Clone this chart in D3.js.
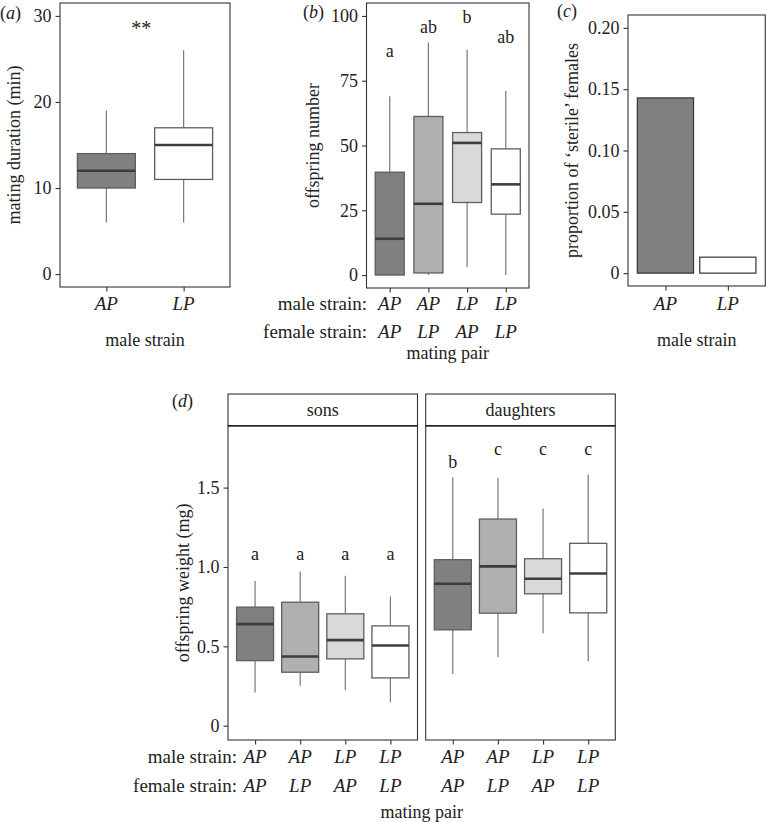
<!DOCTYPE html>
<html><head><meta charset="utf-8">
<script src="https://cdn.jsdelivr.net/npm/d3@7"></script>
<style>
html,body{margin:0;padding:0;background:#fff;}
svg{display:block;}
text{font-family:"Liberation Serif","DejaVu Serif",serif;fill:#222;}
</style></head>
<body>
<svg id="chart" width="766" height="822"></svg>
<script>
// ---------- DATA ----------
// panel (a): mating duration by male strain
const aCats = ["AP", "LP"];
const aLow  = [6, 6];
const aQ1   = [10, 11];
const aMed  = [12, 15];
const aQ3   = [14, 17];
const aHigh = [19, 26];
const aTicks = [0, 10, 20, 30];
const aSig = "**";
const aSigPos = [1.45, 27.8];

// panel (b): offspring number by mating pair
const bMale   = ["AP", "AP", "LP", "LP"];
const bFemale = ["AP", "LP", "AP", "LP"];
const bLow  = [0, 0, 3, 0];
const bQ1   = [0, 0.8, 28, 23.5];
const bMed  = [14, 27.5, 51, 35];
const bQ3   = [39.7, 61.2, 55, 48.7];
const bHigh = [69, 89.8, 87, 71];
const bLetters = ["a", "ab", "b", "ab"];
const bLetterY = [84.3, 93.3, 97.2, 89.5];
const bTicks = [0, 25, 50, 75, 100];

// panel (c): proportion of sterile females
const cCats = ["AP", "LP"];
const cValues = [0.1429, 0.013];
const cTicks = [0, 0.05, 0.10, 0.15, 0.20];
const cTickLabels = ["0", "0.05", "0.10", "0.15", "0.20"];

// panel (d): offspring weight
const dFacets = ["sons", "daughters"];
const dMale   = ["AP", "AP", "LP", "LP"];
const dFemale = ["AP", "LP", "AP", "LP"];
const sonsLow  = [0.21, 0.252, 0.225, 0.147];
const sonsQ1   = [0.41, 0.337, 0.421, 0.301];
const sonsMed  = [0.64, 0.436, 0.539, 0.505];
const sonsQ3   = [0.747, 0.778, 0.705, 0.629];
const sonsHigh = [0.911, 0.972, 0.945, 0.814];
const sonsLetters = ["a", "a", "a", "a"];
const sonsLetterY = [1.046, 1.046, 1.046, 1.046];
const dauLow  = [0.326, 0.431, 0.583, 0.406];
const dauQ1   = [0.604, 0.709, 0.831, 0.711];
const dauMed  = [0.894, 1.004, 0.926, 0.959];
const dauQ3   = [1.046, 1.302, 1.052, 1.149];
const dauHigh = [1.563, 1.561, 1.368, 1.582];
const dauLetters = ["b", "c", "c", "c"];
const dauLetterY = [1.624, 1.708, 1.708, 1.708];
const dTicks = [0, 0.5, 1.0, 1.5];
const dTickLabels = ["0", "0.5", "1.0", "1.5"];

// ---------- STYLE ----------
const fill4 = ["#808080", "#b0b0b0", "#d9d9d9", "#ffffff"];
const fill2 = ["#808080", "#ffffff"];
const FS = 18;
const FSX = 19;
const borderCol = "#333";
const boxCol = "#5e5e5e";
const medCol = "#3d3d3d";
const whiskCol = "#777";

const svg = d3.select("#chart");

function frame(g, x0, y0, x1, y1) {
  g.append("rect").attr("x", x0).attr("y", y0).attr("width", x1 - x0).attr("height", y1 - y0)
    .attr("fill", "none").attr("stroke", borderCol).attr("stroke-width", 1.1);
}

function yAxis(g, y, x0, ticks, labels) {
  const ax = d3.axisLeft(y).tickValues(ticks)
    .tickFormat((d, i) => labels ? labels[i] : String(d))
    .tickSize(4.5).tickPadding(4);
  const a = g.append("g").attr("transform", `translate(${x0},0)`).call(ax);
  a.select(".domain").remove();
  a.selectAll("line").attr("stroke", borderCol).attr("stroke-width", 1.1);
  a.selectAll("text").attr("font-size", FS).attr("font-family", '"Liberation Serif",serif').attr("fill", "#222");
}

function xTicks(g, x, y1, n) {
  const ax = d3.axisBottom(x).tickValues(d3.range(1, n + 1)).tickFormat("").tickSize(4.5);
  const a = g.append("g").attr("transform", `translate(0,${y1})`).call(ax);
  a.select(".domain").remove();
  a.selectAll("line").attr("stroke", borderCol).attr("stroke-width", 1.1);
}

function boxes(g, x, y, low, q1, med, q3, high, fills, w) {
  const n = low.length;
  for (let i = 0; i < n; i++) {
    const c = x(i + 1);
    const hw = (x(1 + w / 2) - x(1 - w / 2)) / 2;
    g.append("line").attr("x1", c).attr("x2", c).attr("y1", y(q3[i])).attr("y2", y(high[i]))
      .attr("stroke", whiskCol).attr("stroke-width", 1.2);
    g.append("line").attr("x1", c).attr("x2", c).attr("y1", y(q1[i])).attr("y2", y(low[i]))
      .attr("stroke", whiskCol).attr("stroke-width", 1.2);
    g.append("rect").attr("x", c - hw).attr("width", 2 * hw)
      .attr("y", y(q3[i])).attr("height", Math.max(0, y(q1[i]) - y(q3[i])))
      .attr("fill", fills[i]).attr("stroke", boxCol).attr("stroke-width", 1.3);
    g.append("line").attr("x1", c - hw).attr("x2", c + hw).attr("y1", y(med[i])).attr("y2", y(med[i]))
      .attr("stroke", medCol).attr("stroke-width", 2.6);
  }
}

function txt(g, s, x, y, opts = {}) {
  const t = g.append("text").attr("x", x).attr("y", y).attr("font-size", opts.size || FS)
    .attr("text-anchor", opts.anchor || "middle").text(s);
  if (opts.italic) t.attr("font-style", "italic");
  if (opts.fill) t.attr("fill", opts.fill);
  return t;
}
function vtitle(g, s, cx, cy) {
  g.append("text").attr("transform", `translate(${cx},${cy}) rotate(-90)`)
    .attr("text-anchor", "middle").attr("dominant-baseline", "central")
    .attr("font-size", FS).text(s);
}
function tag(g, letter, x, y) {
  const t = g.append("text").attr("x", x).attr("y", y).attr("font-size", FS);
  t.append("tspan").text("(");
  t.append("tspan").attr("font-style", "italic").text(letter);
  t.append("tspan").text(")");
}

// ---------- PANEL A ----------
{
  const g = svg.append("g");
  const L = 60, R = 230, T = 3, B = 287;
  const x = d3.scaleLinear().domain([0.4, 2.6]).range([L, R]);
  const y = d3.scaleLinear().domain([-1.5, 31.5]).range([B, T]);
  boxes(g, x, y, aLow, aQ1, aMed, aQ3, aHigh, fill2, 0.75);
  frame(g, L, T, R, B);
  yAxis(g, y, L, aTicks);
  xTicks(g, x, B, 2);
  aCats.forEach((c, i) => txt(g, c, x(i + 1), 310, { italic: true, size: FSX }));
  txt(g, "male strain", (L + R) / 2, 346);
  vtitle(g, "mating duration (min)", 13.5, (T + B) / 2);
  txt(g, aSig, x(aSigPos[0]), y(aSigPos[1]), { size: 20, fill: "#555" });
  tag(g, "a", 0, 19);
}

// ---------- PANEL B ----------
{
  const g = svg.append("g");
  const L = 366.5, R = 529, T = 3, B = 288;
  const x = d3.scaleLinear().domain([0.4, 4.6]).range([L, R]);
  const y = d3.scaleLinear().domain([-5, 105]).range([B, T]);
  boxes(g, x, y, bLow, bQ1, bMed, bQ3, bHigh, fill4, 0.75);
  frame(g, L, T, R, B);
  yAxis(g, y, L, bTicks);
  xTicks(g, x, B, 4);
  bLetters.forEach((s, i) => txt(g, s, x(i + 1), y(bLetterY[i])));
  bMale.forEach((c, i) => txt(g, c, x(i + 1), 310, { italic: true, size: FSX }));
  bFemale.forEach((c, i) => txt(g, c, x(i + 1), 338, { italic: true, size: FSX }));
  txt(g, "male strain:", 367, 310, { anchor: "end", size: FSX });
  txt(g, "female strain:", 367, 338, { anchor: "end", size: FSX });
  txt(g, "mating pair", (L + R) / 2, 358.5);
  vtitle(g, "offspring number", 313, (T + B) / 2);
  tag(g, "b", 303, 18);
}

// ---------- PANEL C ----------
{
  const g = svg.append("g");
  const L = 628, R = 765.3, T = 15, B = 286;
  const x = d3.scaleLinear().domain([0.4, 2.6]).range([L, R]);
  const y = d3.scaleLinear().domain([-0.0105, 0.2105]).range([B, T]);
  const bw = 0.9;
  cValues.forEach((v, i) => {
    g.append("rect").attr("x", x(i + 1 - bw / 2)).attr("width", x(1 + bw / 2) - x(1 - bw / 2))
      .attr("y", y(v)).attr("height", y(0) - y(v))
      .attr("fill", fill2[i]).attr("stroke", "#333").attr("stroke-width", 1.2);
  });
  frame(g, L, T, R, B);
  yAxis(g, y, L, cTicks, cTickLabels);
  xTicks(g, x, B, 2);
  cCats.forEach((c, i) => txt(g, c, x(i + 1), 310, { italic: true, size: FSX }));
  txt(g, "male strain", (L + R) / 2, 346);
  vtitle(g, "proportion of \u2018sterile\u2019 females", 572, (T + B) / 2);
  tag(g, "c", 557, 17);
}

// ---------- PANEL D ----------
{
  const g = svg.append("g");
  const ST = 394, T = 425.7, B = 740;
  const lefts = [228, 425.7], rights = [417.5, 615.3];
  const y = d3.scaleLinear().domain([-0.09, 1.89]).range([B, T]);
  const sets = [
    [sonsLow, sonsQ1, sonsMed, sonsQ3, sonsHigh, sonsLetters, sonsLetterY],
    [dauLow, dauQ1, dauMed, dauQ3, dauHigh, dauLetters, dauLetterY]
  ];
  dFacets.forEach((f, k) => {
    const L = lefts[k], R = rights[k];
    const x = d3.scaleLinear().domain([0.4, 4.6]).range([L, R]);
    const s = sets[k];
    boxes(g, x, y, s[0], s[1], s[2], s[3], s[4], fill4, 0.82);
    s[5].forEach((lt, i) => txt(g, lt, x(i + 1), y(s[6][i])));
    frame(g, L, T, R, B);
    // strip
    g.append("rect").attr("x", L).attr("y", ST).attr("width", R - L).attr("height", T - ST)
      .attr("fill", "#fff").attr("stroke", borderCol).attr("stroke-width", 1.1);
    g.append("line").attr("x1", L).attr("x2", R).attr("y1", T).attr("y2", T)
      .attr("stroke", "#222").attr("stroke-width", 1.4);
    txt(g, f, (L + R) / 2, ST + 22);
    xTicks(g, x, B, 4);
    dMale.forEach((c, i) => txt(g, c, x(i + 1), 763, { italic: true, size: FSX }));
    dFemale.forEach((c, i) => txt(g, c, x(i + 1), 791.5, { italic: true, size: FSX }));
    if (k === 0) yAxis(g, y, L, dTicks, dTickLabels);
  });
  txt(g, "male strain:", 237, 763, { anchor: "end", size: FSX });
  txt(g, "female strain:", 237, 791.5, { anchor: "end", size: FSX });
  txt(g, "mating pair", (lefts[0] + rights[1]) / 2, 818);
  vtitle(g, "offspring weight (mg)", 183, (T + B) / 2);
  tag(g, "d", 172, 407);
}
</script>
</body></html>
